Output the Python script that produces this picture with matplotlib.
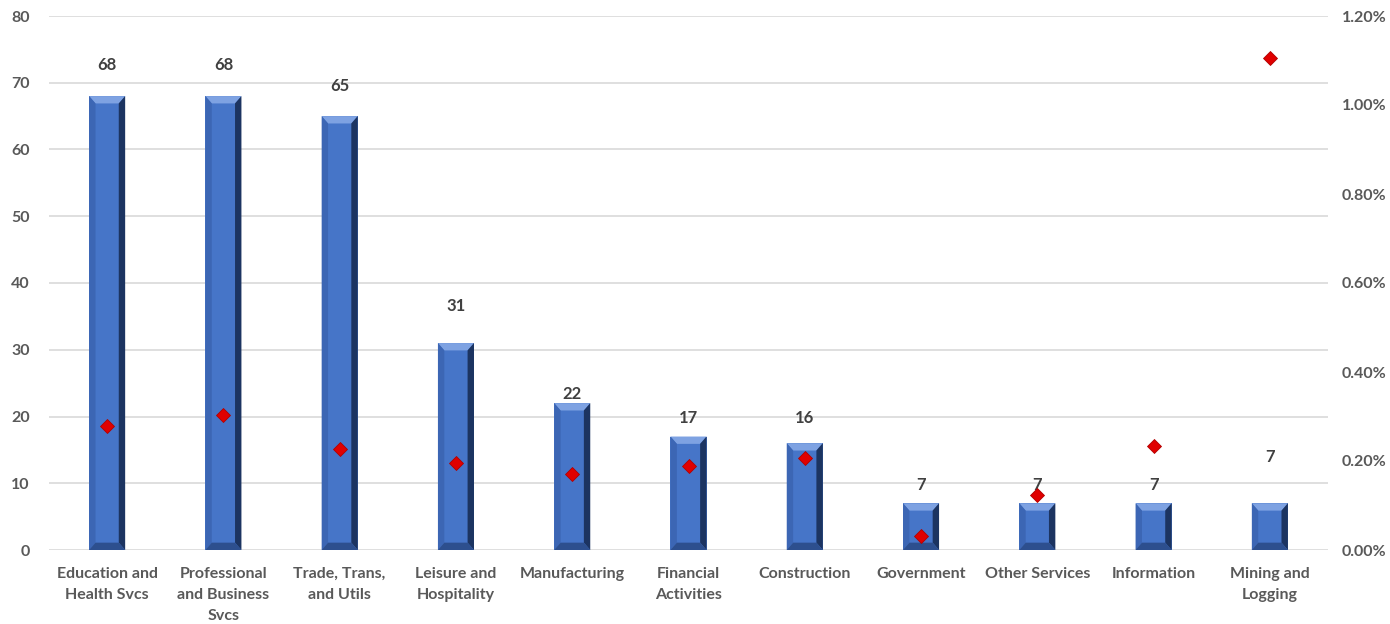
import matplotlib.pyplot as plt
from matplotlib.patches import Polygon
from matplotlib.ticker import FuncFormatter

# Data
categories = ['Education and\nHealth Svcs', 'Professional\nand Business\nSvcs', 'Trade, Trans,\nand Utils',
              'Leisure and\nHospitality', 'Manufacturing', 'Financial\nActivities', 'Construction',
              'Government', 'Other Services', 'Information', 'Mining and\nLogging']
counts = [68, 68, 65, 31, 22, 17, 16, 7, 7, 7, 7]
pct = [0.279, 0.303, 0.227, 0.196, 0.171, 0.189, 0.207, 0.031, 0.124, 0.234, 1.106]
# extra room above a bar for its label (Excel placed these by hand)
label_pad = [4.6, 4.6, 4.5, 5.6, 1.4, 2.8, 3.8, 2.8, 2.8, 2.8, 7.0]

plt.rcParams['font.family'] = ['Lato', 'DejaVu Sans']

fig = plt.figure(figsize=(13.9, 6.24), dpi=100)
ax = fig.add_axes([49 / 1390, 1 - 550 / 624, (1328 - 49) / 1390, (550 - 16) / 624])
ax2 = ax.twinx()

x = list(range(len(categories)))
bw = 0.31
bars = ax.bar(x, counts, width=bw, color='#4675C8', zorder=2)

# bevel look on each bar
bx = 0.055  # bevel in x data units (~6px)
by = 1.1    # bevel in y data units (~7px)
for rect in bars:
    x0 = rect.get_x()
    x1 = x0 + rect.get_width()
    h = rect.get_height()
    b = min(by, h / 4)
    ax.add_patch(Polygon([[x0, h], [x1, h], [x1 - bx, h - b], [x0 + bx, h - b]],
                         closed=True, color='#7EA2E2', lw=0, zorder=3))
    ax.add_patch(Polygon([[x1, h], [x1, 0], [x1 - bx, b], [x1 - bx, h - b]],
                         closed=True, color='#1C3461', lw=0, zorder=3))
    ax.add_patch(Polygon([[x0, h], [x0, 0], [x0 + bx, b], [x0 + bx, h - b]],
                         closed=True, color='#3C66B4', lw=0, zorder=3))
    ax.add_patch(Polygon([[x0, 0], [x1, 0], [x1 - bx, b], [x0 + bx, b]],
                         closed=True, color='#2D4F8E', lw=0, zorder=3))

for i, v in enumerate(counts):
    ax.text(i, v + label_pad[i], str(v), ha='center', va='center', fontsize=12,
            fontweight='bold', color='#404040', zorder=5)

ax.set_xlim(-0.5, len(categories) - 0.5)
ax.set_ylim(0, 80)
ax.set_yticks(range(0, 81, 10))
ax.set_xticks(x)
ax.set_xticklabels(categories, fontsize=11.5, fontweight='bold', color='#595959', linespacing=1.65)
ax.set_yticklabels([str(v) for v in range(0, 81, 10)], fontsize=11.5, fontweight='bold')
ax.tick_params(axis='both', length=0, colors='#595959')
ax.tick_params(axis='x', pad=12)
ax.tick_params(axis='y', pad=14)
ax.grid(axis='y', color='#D9D9D9', lw=1.2, zorder=0)
ax.set_axisbelow(True)
for s in ax.spines.values():
    s.set_visible(False)

ax2.plot(x, pct, linestyle='none', marker='D', markersize=7.5, color='#E00000',
         markeredgecolor='#B00000', markeredgewidth=0.6, zorder=6)
ax2.set_ylim(0, 1.2)
ax2.set_yticks([0, 0.2, 0.4, 0.6, 0.8, 1.0, 1.2])
ax2.yaxis.set_major_formatter(FuncFormatter(lambda v, p: f'{v:.2f}%'))
ax2.tick_params(axis='y', length=0, labelsize=11.5, colors='#595959', pad=10)
for lbl in ax2.get_yticklabels():
    lbl.set_fontweight('bold')
for s in ax2.spines.values():
    s.set_visible(False)

fig.savefig('out.png', dpi=100, facecolor='white')
